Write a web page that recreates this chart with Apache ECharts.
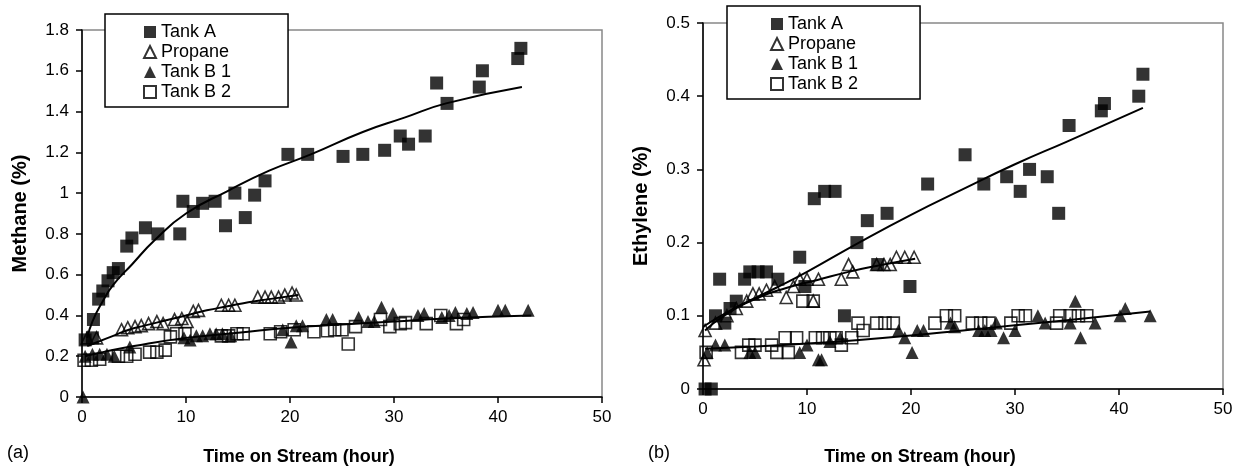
<!DOCTYPE html>
<html>
<head>
<meta charset="utf-8">
<script src="https://cdn.jsdelivr.net/npm/echarts@6/dist/echarts.min.js"></script>
<style>
  body { margin: 0; background: #fff; }
  #main { width: 1233px; height: 466px; }
</style>
</head>
<body>
<div id="main"></div>
<script>
// ---- data: [time (hour), value (%)] ----
var names = ['Tank A', 'Propane', 'Tank B 1', 'Tank B 2'];
var xTicks = [0, 10, 20, 30, 40, 50];

// (a) methane
var methaneTankA = [[0.3,0.28],[1.0,0.29],[1.1,0.38],[1.6,0.48],[2.0,0.52],[2.5,0.57],[3.0,0.61],[3.5,0.63],[4.3,0.74],[4.8,0.78],[6.1,0.83],[7.3,0.80],[9.4,0.80],[9.7,0.96],[10.7,0.91],[11.6,0.95],[12.8,0.96],[13.8,0.84],[14.7,1.00],[15.7,0.88],[16.6,0.99],[17.6,1.06],[19.8,1.19],[21.7,1.19],[25.1,1.18],[27.0,1.19],[29.1,1.21],[30.6,1.28],[31.4,1.24],[33.0,1.28],[34.1,1.54],[35.1,1.44],[38.2,1.52],[38.5,1.60],[41.9,1.66],[42.2,1.71]];
var methanePropane = [[0.5,0.29],[1.4,0.29],[3.8,0.33],[4.4,0.34],[5.1,0.345],[5.7,0.35],[6.4,0.36],[7.2,0.37],[7.8,0.36],[8.9,0.38],[9.6,0.385],[10.1,0.37],[10.7,0.42],[11.2,0.425],[13.4,0.45],[14.1,0.45],[14.7,0.45],[16.9,0.49],[17.6,0.49],[18.2,0.49],[18.9,0.49],[19.5,0.50],[20.2,0.51],[20.6,0.50]];
var methaneTankB1 = [[0.1,0.0],[0.3,0.20],[1.0,0.21],[1.7,0.21],[2.4,0.21],[3.1,0.20],[4.6,0.245],[9.8,0.29],[10.4,0.28],[11.0,0.30],[11.6,0.30],[12.3,0.31],[12.9,0.31],[13.5,0.31],[14.3,0.30],[19.3,0.33],[20.1,0.27],[20.6,0.35],[21.2,0.35],[23.5,0.38],[24.1,0.38],[26.6,0.39],[27.5,0.37],[28.1,0.37],[28.8,0.44],[29.9,0.41],[32.3,0.40],[32.9,0.41],[34.6,0.39],[35.3,0.40],[35.9,0.415],[37.0,0.41],[37.6,0.415],[40.0,0.425],[40.7,0.425],[42.9,0.425]];
var methaneTankB2 = [[0.2,0.18],[0.9,0.18],[1.7,0.185],[3.5,0.20],[4.3,0.20],[5.1,0.21],[6.5,0.22],[7.2,0.22],[8.0,0.23],[8.5,0.295],[9.1,0.31],[9.9,0.31],[13.4,0.30],[14.1,0.30],[14.9,0.31],[15.5,0.31],[18.1,0.31],[19.1,0.32],[20.4,0.33],[22.3,0.32],[23.6,0.325],[24.3,0.33],[25.0,0.33],[25.6,0.26],[26.3,0.345],[28.7,0.38],[29.6,0.345],[30.6,0.36],[31.1,0.365],[33.1,0.36],[34.5,0.40],[36.0,0.36],[36.7,0.38]];
// trend lines
var methaneFitA = [[0.5,0.29],[1,0.37],[2,0.47],[3,0.55],[4.8,0.65],[7,0.77],[10,0.90],[14,1.01],[18,1.11],[22,1.19],[27,1.30],[31,1.37],[35,1.44],[42.3,1.52]];
var methaneFitPropane = [[0.5,0.25],[1.5,0.27],[3,0.30],[4.5,0.33],[6,0.35],[8,0.375],[10,0.40],[12,0.425],[14,0.445],[16,0.465],[18,0.48],[20.8,0.50]];
var methaneFitB1 = [[0.3,0.20],[2,0.22],[5,0.25],[10,0.29],[15,0.315],[20,0.34],[25,0.355],[30,0.37],[35,0.385],[43.2,0.40]];

// (b) ethylene
var ethyleneTankA = [[0.2,0.0],[0.8,0.0],[1.2,0.10],[1.6,0.15],[2.1,0.09],[2.6,0.11],[3.2,0.12],[4.0,0.15],[4.5,0.16],[5.3,0.16],[6.1,0.16],[7.2,0.15],[9.3,0.18],[9.8,0.14],[10.7,0.26],[11.7,0.27],[12.7,0.27],[13.6,0.10],[14.8,0.20],[15.8,0.23],[16.8,0.17],[17.7,0.24],[19.9,0.14],[21.6,0.28],[25.2,0.32],[27.0,0.28],[29.2,0.29],[30.5,0.27],[31.4,0.30],[33.1,0.29],[34.2,0.24],[35.2,0.36],[38.3,0.38],[38.6,0.39],[41.9,0.40],[42.3,0.43]];
var ethylenePropane = [[0.1,0.04],[0.2,0.08],[1.2,0.09],[2.3,0.10],[3.2,0.11],[4.2,0.12],[4.8,0.13],[5.4,0.13],[6.1,0.135],[6.9,0.14],[8.0,0.125],[8.7,0.14],[9.3,0.15],[10.0,0.15],[10.6,0.12],[11.1,0.15],[13.3,0.15],[14.0,0.17],[14.4,0.16],[16.7,0.17],[17.4,0.17],[18.0,0.17],[18.6,0.18],[19.4,0.18],[20.3,0.18]];
var ethyleneTankB1 = [[0.4,0.05],[1.2,0.06],[2.1,0.06],[4.5,0.05],[5.0,0.05],[9.3,0.05],[10.0,0.06],[11.1,0.04],[11.4,0.04],[12.2,0.065],[13.2,0.07],[18.8,0.08],[19.4,0.07],[20.1,0.05],[20.6,0.08],[21.2,0.08],[23.8,0.09],[24.2,0.085],[26.5,0.08],[27.1,0.08],[27.7,0.08],[28.2,0.09],[28.9,0.07],[30.0,0.08],[32.2,0.10],[32.9,0.09],[35.3,0.09],[35.8,0.12],[36.3,0.07],[37.7,0.09],[40.1,0.10],[40.6,0.11],[43.0,0.10]];
var ethyleneTankB2 = [[0.3,0.05],[3.7,0.05],[4.4,0.06],[5.0,0.06],[6.6,0.06],[7.1,0.05],[7.9,0.07],[8.2,0.05],[9.0,0.07],[9.6,0.12],[10.6,0.12],[10.8,0.07],[11.5,0.07],[12.2,0.07],[12.8,0.07],[13.3,0.06],[14.3,0.07],[14.9,0.09],[15.4,0.08],[16.7,0.09],[17.5,0.09],[18.3,0.09],[22.3,0.09],[23.4,0.10],[24.2,0.10],[25.9,0.09],[26.7,0.09],[27.5,0.09],[29.6,0.09],[30.3,0.10],[31.0,0.10],[34.0,0.09],[34.3,0.10],[35.3,0.10],[36.1,0.10],[36.9,0.10]];
var ethyleneFitA = [[0,0.085],[3,0.11],[7,0.138],[10,0.16],[15,0.20],[20,0.238],[25,0.273],[30,0.307],[35,0.338],[42.3,0.384]];
var ethyleneFitPropane = [[0.2,0.08],[2,0.10],[5,0.123],[8,0.138],[11,0.149],[14,0.16],[17,0.169],[20.4,0.178]];
var ethyleneFitB1 = [[0.2,0.055],[5,0.058],[10,0.062],[15,0.067],[20,0.073],[25,0.08],[30,0.087],[35,0.094],[43,0.106]];

var FONT = '"Liberation Sans", Arial, sans-serif';
var markers = {
  'Tank A':   { symbol: 'rect', filled: true },
  'Propane':  { symbol: 'triangle', filled: false },
  'Tank B 1': { symbol: 'triangle', filled: true },
  'Tank B 2': { symbol: 'rect', filled: false }
};

function scatter(name, data, idx) {
  var m = markers[name];
  return {
    name: name,
    type: 'scatter',
    xAxisIndex: idx,
    yAxisIndex: idx,
    symbol: m.symbol,
    symbolSize: m.filled ? 13 : 12,
    itemStyle: m.filled
      ? { color: '#000' }
      : { color: 'rgba(255,255,255,0)', borderColor: '#000', borderWidth: 1.6 },
    data: data,
    z: 2
  };
}

function fit(data, idx) {
  return {
    name: 'fit',
    type: 'line',
    xAxisIndex: idx,
    yAxisIndex: idx,
    smooth: true,
    showSymbol: false,
    silent: true,
    lineStyle: { color: '#000', width: 2 },
    data: data,
    z: 3
  };
}

function xAxis(idx, gap) {
  return {
    type: 'value',
    gridIndex: idx,
    min: xTicks[0], max: xTicks[xTicks.length - 1], interval: 10,
    name: 'Time on Stream (hour)',
    nameLocation: 'middle',
    nameGap: gap,
    nameTextStyle: { fontFamily: FONT, fontSize: 18, fontWeight: 'bold', color: '#000', padding: [0, 86, 0, 0] },
    axisLine: { show: true, lineStyle: { color: '#000', width: 1.5 } },
    axisTick: { show: true, length: 6, lineStyle: { color: '#000', width: 1.5 } },
    axisLabel: { fontFamily: FONT, fontSize: 17, color: '#000', margin: 12 },
    splitLine: { show: false }
  };
}

function yAxis(idx, name, max, interval) {
  return {
    type: 'value',
    gridIndex: idx,
    min: 0, max: max, interval: interval,
    name: name,
    nameLocation: 'middle',
    nameGap: 52,
    nameTextStyle: { fontFamily: FONT, fontSize: 20, fontWeight: 'bold', color: '#000' },
    axisLine: { show: true, lineStyle: { color: '#000', width: 1.5 } },
    axisTick: { show: true, length: 6, lineStyle: { color: '#000', width: 1.5 } },
    axisLabel: { fontFamily: FONT, fontSize: 17, color: '#000', margin: 13 },
    splitLine: { show: false }
  };
}

function legend(left, top, padLeft, padRight) {
  return {
    left: left,
    top: top,
    orient: 'vertical',
    data: [
      { name: names[0], icon: 'rect' },
      { name: names[1], icon: 'triangle' },
      { name: names[2], icon: 'triangle' },
      { name: names[3], icon: 'rect' }
    ],
    itemWidth: 12,
    itemHeight: 12,
    itemGap: 2,
    padding: [9, padRight, 6, padLeft],
    backgroundColor: '#fff',
    borderColor: '#000',
    borderWidth: 1.5,
    borderRadius: 0,
    selectedMode: false,
    textStyle: { fontFamily: FONT, fontSize: 18, color: '#000' },
    z: 10
  };
}

var myChart = echarts.init(document.getElementById('main'));

var option = {
  animation: false,
  backgroundColor: '#fff',
  grid: [
    { left: 82, right: 631, top: 30, bottom: 69, outerBoundsMode: 'none', show: true, borderColor: '#888', borderWidth: 1.5 },
    { left: 703, right: 10, top: 23, bottom: 77, outerBoundsMode: 'none', show: true, borderColor: '#888', borderWidth: 1.5 }
  ],
  xAxis: [xAxis(0, 51), xAxis(1, 59)],
  yAxis: [yAxis(0, 'Methane (%)', 1.8, 0.2), yAxis(1, 'Ethylene (%)', 0.5, 0.1)],
  legend: [legend(105, 14, 38, 57), legend(727, 6, 43, 62)],
  graphic: [
    { type: 'text', left: 7, top: 444, style: { text: '(a)', font: '18px ' + FONT, fill: '#000' } },
    { type: 'text', left: 648, top: 444, style: { text: '(b)', font: '18px ' + FONT, fill: '#000' } }
  ],
  series: [
    scatter('Tank A', methaneTankA, 0),
    scatter('Propane', methanePropane, 0),
    scatter('Tank B 1', methaneTankB1, 0),
    scatter('Tank B 2', methaneTankB2, 0),
    fit(methaneFitA, 0),
    fit(methaneFitPropane, 0),
    fit(methaneFitB1, 0),
    scatter('Tank A', ethyleneTankA, 1),
    scatter('Propane', ethylenePropane, 1),
    scatter('Tank B 1', ethyleneTankB1, 1),
    scatter('Tank B 2', ethyleneTankB2, 1),
    fit(ethyleneFitA, 1),
    fit(ethyleneFitPropane, 1),
    fit(ethyleneFitB1, 1)
  ]
};

myChart.setOption(option);
window.onresize = function () {
  myChart.resize();
};
</script>
</body>
</html>
